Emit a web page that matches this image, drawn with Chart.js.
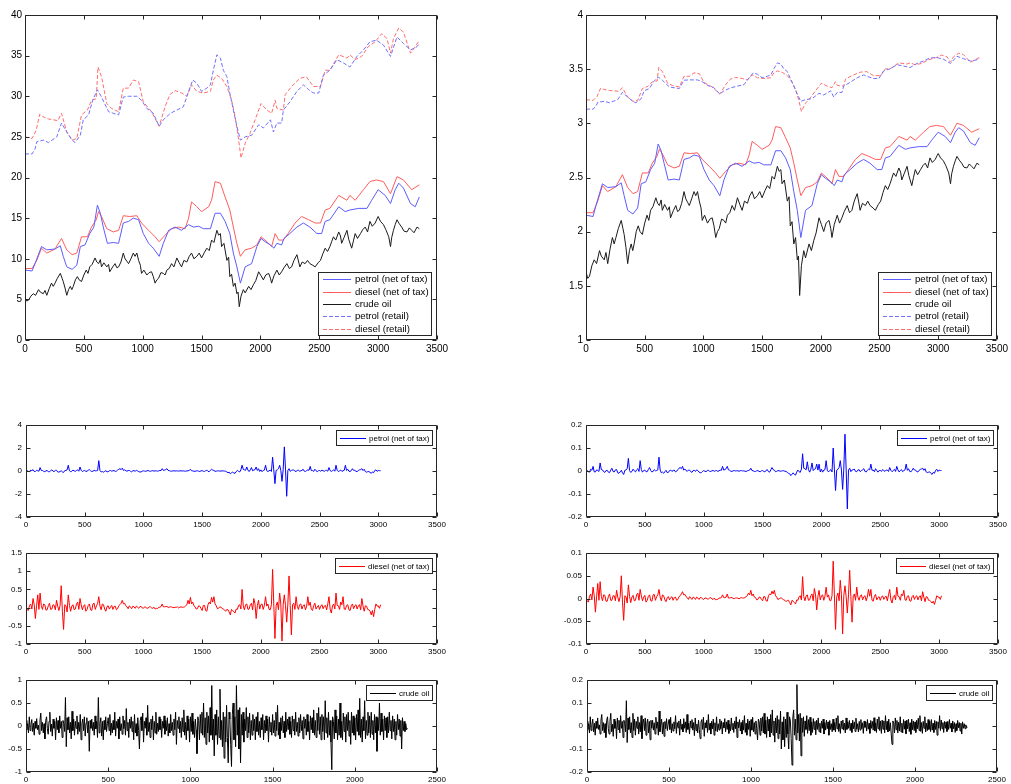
<!DOCTYPE html>
<html>
<head>
<meta charset="utf-8">
<script src="https://cdn.jsdelivr.net/npm/chart.js@4/dist/chart.umd.min.js"></script>
<style>
  html, body { margin: 0; padding: 0; background: #fff; width: 1011px; height: 784px; overflow: hidden; }
  canvas { position: absolute; }
</style>
</head>
<body>
<canvas id="levelChart"></canvas>
<canvas id="logLevelChart"></canvas>
<canvas id="petrolChangeChart"></canvas>
<canvas id="petrolLogChangeChart"></canvas>
<canvas id="dieselChangeChart"></canvas>
<canvas id="dieselLogChangeChart"></canvas>
<canvas id="crudeChangeChart"></canvas>
<canvas id="crudeLogChangeChart"></canvas>
<script>
// ---------- price levels (day index -> price) ----------
const petrolRetailX = [0,60,85,100,155,200,270,310,355,400,425,470,495,540,575,615,650,710,750,795,835,880,950,990,1035,1090,1140,1175,1235,1290,1345,1390,1425,1460,1500,1545,1575,1600,1630,1660,1685,1715,1740,1770,1800,1830,1870,1925,1985,2025,2085,2110,2140,2180,2195,2250,2310,2365,2410,2450,2495,2535,2590,2650,2705,2760,2820,2875,2930,2985,3045,3105,3160,3215,3275,3330,3352];
const petrolRetailLevel = [22.9,22.9,23.5,24.4,24.6,24.3,25.0,26.7,25.6,24.6,24.3,25.2,27.1,27.7,29.5,30.8,29.9,28.1,27.9,27.7,29.9,30.0,30.0,29.5,28.5,27.9,26.3,27.1,27.9,28.3,28.7,30.6,32.0,31.6,30.6,31.0,31.4,33.2,35.1,34.7,33.2,32.4,30.4,28.3,26.3,24.6,25.0,25.2,26.5,26.1,27.1,25.6,26.7,26.7,28.3,29.3,30.6,31.4,30.8,30.4,30.4,32.6,33.2,34.5,34.1,33.6,34.9,35.7,36.7,36.9,36.3,34.9,37.3,36.5,35.7,36.1,36.5];
const petrolRetailLog = [3.131,3.131,3.157,3.195,3.203,3.190,3.219,3.285,3.243,3.203,3.190,3.227,3.300,3.321,3.384,3.428,3.398,3.336,3.329,3.321,3.398,3.401,3.401,3.384,3.350,3.329,3.270,3.300,3.329,3.343,3.357,3.421,3.466,3.453,3.421,3.434,3.447,3.503,3.558,3.547,3.503,3.478,3.414,3.343,3.270,3.203,3.219,3.227,3.277,3.262,3.300,3.243,3.285,3.285,3.343,3.378,3.421,3.447,3.428,3.414,3.414,3.484,3.503,3.541,3.529,3.515,3.553,3.575,3.603,3.608,3.592,3.553,3.619,3.597,3.575,3.586,3.597];

const dieselRetailX = [0,60,95,125,150,200,280,310,355,400,440,480,530,565,605,620,650,695,735,795,835,880,920,965,1005,1075,1140,1190,1230,1275,1330,1375,1415,1460,1515,1575,1600,1630,1670,1715,1755,1785,1815,1835,1870,1910,1955,2005,2055,2095,2125,2140,2195,2210,2265,2335,2390,2450,2510,2550,2590,2665,2735,2760,2805,2860,2915,2975,3030,3075,3105,3130,3175,3215,3275,3315,3350];
const dieselRetailLevel = [25.0,24.8,25.8,27.8,27.5,27.2,27.0,27.9,25.6,24.6,24.8,27.7,28.3,29.5,29.7,33.6,32.4,29.1,28.5,28.1,31.0,31.0,32.0,31.8,29.3,28.1,26.3,28.7,30.2,30.7,30.4,30.0,31.4,30.6,30.4,30.6,32.0,32.6,32.2,31.2,29.5,27.5,24.6,22.4,24.2,25.4,27.1,29.1,28.3,27.9,29.5,28.5,28.3,30.2,31.2,32.2,32.4,31.2,31.2,33.2,33.2,35.1,34.7,35.1,34.5,34.9,36.1,36.7,37.7,37.1,35.3,37.1,38.4,37.9,35.3,36.1,36.9];
const dieselRetailLog = [3.219,3.211,3.250,3.325,3.314,3.303,3.296,3.329,3.243,3.203,3.211,3.321,3.343,3.384,3.391,3.515,3.478,3.371,3.350,3.336,3.434,3.434,3.466,3.459,3.378,3.336,3.270,3.357,3.408,3.424,3.414,3.401,3.447,3.421,3.414,3.421,3.466,3.484,3.472,3.440,3.384,3.314,3.203,3.109,3.186,3.235,3.300,3.371,3.343,3.329,3.384,3.350,3.343,3.408,3.440,3.472,3.478,3.440,3.440,3.503,3.503,3.558,3.547,3.558,3.541,3.553,3.586,3.603,3.630,3.614,3.564,3.614,3.648,3.635,3.564,3.586,3.608];

const petrolNetX = [0,60,85,140,185,255,300,325,355,400,440,470,510,550,585,615,640,665,700,750,795,835,880,920,965,1005,1050,1090,1140,1175,1220,1275,1330,1390,1430,1475,1515,1575,1615,1660,1700,1740,1770,1800,1830,1870,1925,1970,2005,2040,2085,2115,2140,2180,2200,2250,2310,2365,2420,2480,2520,2550,2590,2665,2720,2760,2835,2905,2945,3000,3060,3105,3145,3175,3215,3275,3315,3350];
const petrolNetLevel = [8.6,8.5,9.4,11.5,11.1,11.2,11.6,10.3,9.0,8.7,9.2,11.5,11.7,13.1,13.9,16.6,15.6,13.9,11.9,12.0,11.9,14.4,14.6,15.0,14.8,13.1,11.9,11.3,10.3,11.9,13.5,13.9,13.5,14.2,13.9,14.0,13.7,13.7,15.6,15.6,14.6,13.1,10.7,9.0,7.0,9.0,9.4,11.5,12.5,12.1,11.7,11.3,11.9,11.7,12.5,13.1,13.9,14.4,13.9,13.1,13.1,14.6,14.8,16.4,15.8,16.0,16.2,16.2,17.2,18.5,17.8,16.8,18.5,19.3,18.7,16.8,16.4,17.6];
const petrolNetLog = [2.152,2.140,2.241,2.442,2.407,2.416,2.451,2.332,2.197,2.163,2.219,2.442,2.460,2.573,2.632,2.809,2.747,2.632,2.477,2.485,2.477,2.667,2.681,2.708,2.695,2.573,2.477,2.425,2.332,2.477,2.603,2.632,2.603,2.653,2.632,2.639,2.617,2.617,2.747,2.747,2.681,2.573,2.370,2.197,1.946,2.197,2.241,2.442,2.526,2.493,2.460,2.425,2.477,2.460,2.526,2.573,2.632,2.667,2.632,2.573,2.573,2.681,2.695,2.797,2.760,2.773,2.785,2.785,2.845,2.918,2.879,2.821,2.918,2.960,2.929,2.821,2.797,2.868];

const dieselNetX = [0,60,100,140,185,255,310,355,400,440,480,530,565,605,625,650,695,750,795,835,890,950,990,1050,1105,1140,1190,1245,1305,1360,1390,1415,1460,1500,1560,1585,1615,1660,1700,1740,1770,1800,1830,1870,1925,1970,2005,2055,2095,2125,2155,2195,2235,2295,2350,2410,2465,2510,2550,2590,2665,2735,2760,2805,2875,2930,2985,3045,3105,3160,3215,3285,3350];
const dieselNetLevel = [8.8,8.8,9.8,11.3,10.7,11.2,12.5,11.1,10.5,10.7,12.7,12.7,13.9,14.8,15.8,15.2,13.7,13.3,13.5,15.3,15.2,15.3,14.4,13.5,12.7,12.1,12.9,13.7,13.9,13.7,15.0,17.0,16.4,15.8,16.4,17.2,19.5,19.3,17.6,16.0,13.9,11.9,10.3,11.1,11.3,11.7,12.7,12.1,11.5,13.1,12.3,12.3,13.1,14.4,15.2,14.8,14.4,14.4,16.0,16.2,17.8,17.2,17.8,17.2,18.5,19.5,19.7,19.5,18.0,20.1,19.7,18.5,19.1];
const dieselNetLog = [2.175,2.175,2.282,2.425,2.370,2.416,2.526,2.407,2.351,2.370,2.542,2.542,2.632,2.695,2.760,2.721,2.617,2.588,2.603,2.728,2.721,2.728,2.667,2.603,2.542,2.493,2.557,2.617,2.632,2.617,2.708,2.833,2.797,2.760,2.797,2.845,2.970,2.960,2.868,2.773,2.632,2.477,2.332,2.407,2.425,2.460,2.542,2.493,2.442,2.573,2.510,2.510,2.573,2.667,2.721,2.695,2.667,2.667,2.773,2.785,2.879,2.845,2.879,2.845,2.918,2.970,2.981,2.970,2.890,3.001,2.981,2.918,2.950];

const crudeX = [0,15,30,50,70,90,115,130,155,170,185,205,225,240,255,275,300,315,325,340,355,370,385,398,410,428,445,460,480,500,520,535,550,570,595,610,625,640,650,670,695,710,720,745,765,780,795,815,835,850,865,880,900,920,935,950,965,980,990,1010,1035,1055,1075,1090,1105,1120,1135,1155,1175,1190,1205,1225,1245,1265,1290,1310,1330,1350,1375,1395,1415,1435,1460,1480,1500,1525,1545,1565,1585,1605,1630,1645,1660,1670,1690,1715,1730,1740,1755,1770,1785,1800,1810,1820,1835,1855,1870,1900,1920,1940,1960,1985,2005,2025,2045,2070,2085,2095,2115,2140,2160,2180,2200,2225,2245,2265,2285,2310,2325,2335,2355,2380,2400,2420,2445,2465,2490,2510,2530,2550,2570,2590,2605,2620,2640,2665,2680,2690,2710,2735,2750,2775,2790,2805,2825,2850,2870,2890,2910,2930,2950,2975,2990,3000,3020,3045,3065,3090,3105,3115,3130,3145,3160,3180,3200,3220,3245,3265,3285,3305,3330,3350];
const crudeLevel = [5.1,4.8,4.9,5.4,5.7,5.5,6.2,5.9,5.7,6.1,5.5,6.3,7.0,6.6,7.0,7.6,8.2,7.6,7.2,6.4,5.5,6.2,6.6,6.2,6.6,7.4,7.8,7.4,7.2,8.0,8.6,8.2,9.0,9.3,10.1,9.6,9.4,9.9,9.0,9.5,9.0,9.3,8.4,9.0,9.4,8.9,9.0,9.6,10.7,10.0,9.7,9.4,10.0,10.7,10.3,10.7,9.8,9.2,8.2,8.6,8.0,8.3,8.4,7.8,7.0,7.4,7.6,8.3,8.2,8.0,8.6,8.8,9.4,9.0,10.1,9.5,9.0,9.8,9.6,10.3,10.7,10.0,10.3,10.7,10.1,10.8,11.3,11.0,12.3,12.0,13.5,12.9,13.1,11.5,11.9,9.8,10.2,7.8,8.1,6.6,7.0,5.7,5.9,4.1,5.4,6.2,5.8,6.6,6.2,6.8,7.3,8.4,7.9,7.4,8.0,8.2,7.6,7.0,7.9,8.6,8.0,8.4,8.9,9.4,8.8,9.0,9.8,10.5,9.6,9.0,9.6,9.4,9.8,9.4,9.2,9.0,9.5,9.8,10.6,11.3,10.9,11.5,12.1,12.7,12.3,13.3,12.8,11.9,12.6,13.5,12.4,11.3,12.2,13.1,12.5,13.1,13.6,13.9,13.3,14.6,14.0,14.4,14.9,15.2,14.6,14.2,13.6,12.7,11.5,12.6,13.5,14.2,14.8,14.3,13.9,13.4,13.3,13.8,13.5,13.2,13.9,13.7];
const crudeLog = [1.629,1.569,1.589,1.686,1.740,1.705,1.825,1.775,1.740,1.808,1.705,1.841,1.946,1.887,1.946,2.028,2.104,2.028,1.974,1.856,1.705,1.825,1.887,1.825,1.887,2.001,2.054,2.001,1.974,2.079,2.152,2.104,2.197,2.230,2.313,2.262,2.241,2.293,2.197,2.251,2.197,2.230,2.128,2.197,2.241,2.186,2.197,2.262,2.370,2.303,2.272,2.241,2.303,2.370,2.332,2.370,2.282,2.219,2.104,2.152,2.079,2.116,2.128,2.054,1.946,2.001,2.028,2.116,2.104,2.079,2.152,2.175,2.241,2.197,2.313,2.251,2.197,2.282,2.262,2.332,2.370,2.303,2.332,2.370,2.313,2.380,2.425,2.398,2.510,2.485,2.603,2.557,2.573,2.442,2.477,2.282,2.322,2.054,2.092,1.887,1.946,1.740,1.775,1.411,1.686,1.825,1.758,1.887,1.825,1.917,1.988,2.128,2.067,2.001,2.079,2.104,2.028,1.946,2.067,2.152,2.079,2.128,2.186,2.241,2.175,2.197,2.282,2.351,2.262,2.197,2.262,2.241,2.282,2.241,2.219,2.197,2.251,2.282,2.361,2.425,2.389,2.442,2.493,2.542,2.510,2.588,2.549,2.477,2.534,2.603,2.518,2.425,2.501,2.573,2.526,2.573,2.610,2.632,2.588,2.681,2.639,2.667,2.701,2.721,2.681,2.653,2.610,2.542,2.442,2.534,2.603,2.653,2.695,2.660,2.632,2.595,2.588,2.625,2.603,2.580,2.632,2.617];

// ---------- day-to-day changes (one value every 10 days for fuels, every 5 for crude) ----------
const fuelSpacing = 10;
const crudeSpacing = 5;
const petrolChange = [0.05,0.02,-0.03,-0.06,0.08,0.03,0.12,-0.04,-0.05,0.06,0.02,-0.02,0.3,0.05,0.04,-0.03,-0.06,0.02,0.03,-0.05,-0.08,0.04,0.1,-0.02,-0.04,0.05,0.06,-0.08,-0.1,-0.04,0.02,-0.08,-0.12,0.03,0.05,0.1,0.5,0.02,-0.06,-0.02,0.08,0.01,-0.03,0.05,0.1,-0.02,0.35,0.06,-0.05,0.02,0.04,-0.03,-0.02,0.07,0.12,0.02,-0.04,-0.02,0.06,0.01,0.02,0.05,0.9,0.04,-0.08,-0.05,-0.1,-0.03,0.03,-0.07,-0.06,0.02,0.05,-0.02,0.02,0.04,-0.04,-0.01,0.08,0.15,0.2,0.12,0.25,0.05,0.1,0.03,-0.02,0.04,0.05,-0.03,-0.07,0.02,0.03,-0.02,0.06,0.01,-0.05,-0.09,-0.08,-0.02,0.02,-0.01,-0.03,0.02,0.04,-0.01,-0.02,0.01,0.03,-0.01,0.01,0.02,-0.02,0.01,0.05,0.03,0.2,0.05,0.08,0.12,0.2,0.06,0.04,-0.01,-0.02,0.01,0.02,0,0.01,0.01,-0.01,0.01,0.02,0,0.01,-0.01,-0.02,0.01,0.02,0.04,0.15,0.02,0.01,-0.02,-0.03,0.01,0.02,-0.02,-0.04,0.01,0.03,-0.02,-0.05,0.03,0.08,-0.03,-0.06,0.06,0.15,0.08,0.05,-0.03,-0.02,0.02,0.01,-0.01,0,0.01,0.01,-0.01,-0.02,-0.08,-0.15,-0.1,-0.25,-0.15,-0.1,-0.18,-0.2,-0.05,0.05,-0.03,-0.08,0.1,0.5,0.15,0.1,0.06,0.35,0.08,-0.05,0.1,0.3,0.02,0.08,0.12,0.35,0.05,0.2,-0.04,0.1,-0.06,0.05,0.08,0.5,0.03,-0.05,0.02,0.08,-0.04,1.2,0.1,-1.1,0.05,0.1,0.2,0.5,0.05,-0.9,0.1,2.1,0.1,-2.2,0.05,0.2,-0.03,0.05,0.08,0.1,-0.02,-0.04,0.05,0.08,-0.03,0.02,0.06,0.15,-0.02,-0.05,0.04,0.1,0.06,0.4,0.03,0.05,-0.04,0.15,0.02,-0.06,0.03,0.04,-0.02,0.08,0.02,-0.03,0.05,0.06,-0.02,0.3,0.04,-0.04,0.03,0.1,-0.02,0.5,0.06,-0.05,0.02,0.08,-0.03,0.02,0.06,0.5,0.04,0.15,-0.02,-0.04,0.03,0.2,0.05,0.06,-0.03,-0.05,0.04,0.1,0.12,0.2,0.04,0.15,-0.05,-0.1,-0.06,-0.05,-0.12,-0.2,-0.08,-0.15,0.04,0.1,-0.03,0.05,0.03,0.02];
const petrolLogChange = [0.004,0.002,-0.003,-0.005,0.008,0.003,0.02,-0.004,-0.004,0.005,0.002,-0.002,0.035,0.006,0.005,-0.003,-0.006,0.002,0.003,-0.005,-0.007,0.004,0.012,-0.002,-0.004,0.005,0.006,-0.008,-0.01,-0.004,0.003,-0.008,-0.015,0.003,0.005,0.01,0.055,0.002,-0.006,-0.002,0.008,0.001,-0.004,0.005,0.01,-0.002,0.045,0.006,-0.005,0.002,0.004,-0.003,-0.003,0.007,0.015,0.002,-0.004,-0.002,0.006,0.001,0.002,0.005,0.06,0.004,-0.008,-0.005,-0.01,-0.003,0.003,-0.007,-0.006,0.002,0.004,-0.002,0.002,0.004,-0.004,-0.001,0.006,0.012,0.015,0.01,0.02,0.004,0.008,0.003,-0.002,0.004,0.004,-0.003,-0.006,0.002,0.003,-0.002,0.005,0.001,-0.004,-0.008,-0.007,-0.002,0.002,-0.001,-0.003,0.002,0.003,-0.001,-0.002,0.001,0.002,-0.001,0.001,0.002,-0.002,0.001,0.004,0.003,0.02,0.004,0.006,0.01,0.02,0.005,0.003,-0.001,-0.002,0.001,0.002,0,0.001,0.001,-0.001,0.001,0.002,0,0.001,-0.001,-0.002,0.001,0.002,0.004,0.012,0.002,0.001,-0.002,-0.002,0.001,0.002,-0.002,-0.003,0.001,0.002,-0.002,-0.004,0.003,0.006,-0.003,-0.005,0.005,0.015,0.006,0.004,-0.003,-0.002,0.002,0.001,-0.001,0,0.001,0.001,-0.001,-0.002,-0.006,-0.01,-0.012,-0.02,-0.014,-0.008,-0.015,-0.018,-0.005,0.004,-0.003,-0.006,0.008,0.075,0.012,0.01,0.005,0.04,0.006,-0.005,0.008,0.035,0.002,0.008,0.01,0.03,0.004,0.03,-0.004,0.008,-0.005,0.004,0.006,0.045,0.003,-0.004,0.002,0.006,-0.004,0.1,0.008,-0.085,0.004,0.008,0.015,0.045,0.004,-0.08,0.008,0.16,0.008,-0.165,0.004,0.012,-0.003,0.004,0.006,0.008,-0.002,-0.003,0.004,0.006,-0.003,0.002,0.005,0.01,-0.002,-0.004,0.003,0.008,0.005,0.03,0.003,0.004,-0.003,0.01,0.002,-0.005,0.002,0.003,-0.002,0.006,0.002,-0.002,0.004,0.004,-0.002,0.015,0.003,-0.003,0.002,0.007,-0.002,0.02,0.005,-0.004,0.002,0.006,-0.003,0.002,0.005,0.03,0.003,0.01,-0.002,-0.003,0.002,0.012,0.004,0.004,-0.003,-0.004,0.003,0.007,0.009,0.012,0.003,0.01,-0.004,-0.007,-0.005,-0.004,-0.01,-0.015,-0.006,-0.01,0.003,0.007,-0.002,0.004,0.002,0.002];
const dieselChange = [0.05,-0.06,-0.08,0.06,0.1,-0.04,0.25,0.08,-0.3,0.05,0.35,-0.05,0.4,0.06,-0.05,0.1,0.08,-0.07,-0.06,0.05,0.12,-0.05,-0.04,0.08,0.06,-0.06,0.2,0.04,-0.08,0.05,0.6,-0.1,-0.6,0.08,0.05,-0.12,0.35,0.06,-0.1,0.04,0.08,-0.06,-0.04,0.1,0.15,-0.05,0.25,0.08,-0.06,0.04,0.08,-0.1,-0.05,0.06,0.1,-0.06,-0.08,0.1,0.12,-0.05,0.05,0.12,0.3,0.04,-0.06,0.1,0.08,-0.04,-0.1,0.03,0.05,-0.04,0.02,0.06,-0.05,0.03,0.04,-0.06,-0.03,0.05,0.08,0.12,0.2,0.1,0.12,0.05,0.02,-0.03,0.05,0.01,-0.03,0.04,0.02,-0.02,0.04,0.01,-0.02,0.03,0.03,-0.01,-0.02,0.02,0.01,-0.02,-0.01,0.02,0.02,-0.01,-0.02,0.01,-0.04,-0.02,-0.03,0.01,0.01,0.03,0.1,0.02,0.02,0.03,0.03,0.01,0.01,0.02,0.02,0,0,0.01,0.01,0.02,-0.01,0.01,0.02,0.01,0.01,0.02,0.05,0.08,0.2,0.1,0.28,0.1,0.15,0.05,0.02,-0.04,-0.03,0.05,0.04,-0.02,-0.08,0.06,0.06,-0.08,-0.1,0.08,0.15,0.1,0.28,0.15,0.3,0.1,0.05,-0.03,-0.02,0.02,0.01,-0.02,-0.04,-0.06,-0.1,-0.05,-0.06,-0.12,-0.2,-0.05,-0.08,-0.12,-0.15,-0.04,-0.05,0.06,0.08,-0.04,0.5,0.05,-0.06,0.08,0.1,-0.05,-0.04,0.08,0.12,-0.06,0.25,0.1,-0.3,0.05,0.2,-0.04,0.08,0.1,-0.05,0.06,0.3,0.04,0.1,-0.05,-0.06,0.08,1.05,0.1,-0.85,0.05,0.15,-0.06,0.4,0.1,-0.92,0.08,0.35,0.05,-0.4,0.1,0.87,0.05,-0.75,0.08,0.12,-0.05,0.3,0.04,-0.05,0.08,0.1,-0.04,0.05,0.08,-0.06,0.04,0.3,0.06,0.15,-0.05,-0.08,0.06,0.12,-0.04,0.02,0.06,-0.05,0.04,0.08,-0.03,0.04,0.06,-0.06,0.1,0.3,-0.04,-0.15,0.05,0.1,-0.04,0.4,0.06,0.05,-0.05,0.15,0.08,0.3,-0.04,-0.05,0.06,0.08,-0.06,-0.08,0.05,0.1,-0.03,0.05,0.08,-0.04,0.05,0.08,-0.06,0.25,0.04,-0.1,0.05,0.04,-0.05,-0.06,-0.1,-0.2,-0.08,-0.25,-0.05,0.1,0.04,0.05,-0.02,0.08];
const dieselLogChange = [0.003,-0.005,-0.008,0.005,0.01,-0.003,0.025,0.006,-0.03,0.004,0.033,-0.004,0.037,0.005,-0.005,0.008,0.007,-0.006,-0.006,0.004,0.01,-0.004,-0.004,0.006,0.006,-0.005,0.018,0.003,-0.007,0.004,0.05,-0.008,-0.048,0.006,0.004,-0.01,0.03,0.005,-0.009,0.003,0.007,-0.005,-0.004,0.008,0.012,-0.004,0.02,0.006,-0.005,0.003,0.007,-0.008,-0.004,0.005,0.008,-0.005,-0.006,0.008,0.009,-0.004,0.004,0.008,0.02,0.003,-0.005,0.008,0.006,-0.003,-0.007,0.002,0.004,-0.003,0.002,0.004,-0.004,0.002,0.003,-0.004,-0.002,0.004,0.006,0.01,0.015,0.008,0.009,0.004,0.002,-0.002,0.004,0.001,-0.002,0.003,0.002,-0.002,0.003,0.001,-0.002,0.002,0.002,-0.001,-0.002,0.001,0.001,-0.001,-0.001,0.001,0.002,-0.001,-0.002,0.001,-0.003,-0.002,-0.002,0.001,0.001,0.002,0.008,0.002,0.002,0.003,0.01,0.001,0.001,0.002,0.002,0,0,0.001,0.001,0.001,-0.001,0.001,0.002,0.001,0.001,0.002,0.004,0.006,0.012,0.008,0.018,0.006,0.01,0.003,0.002,-0.003,-0.002,0.003,0.003,-0.002,-0.005,0.004,0.004,-0.005,-0.006,0.006,0.01,0.008,0.016,0.01,0.018,0.006,0.003,-0.002,-0.001,0.001,0.001,-0.001,-0.003,-0.004,-0.007,-0.004,-0.004,-0.009,-0.014,-0.004,-0.006,-0.009,-0.012,-0.003,-0.004,0.004,0.006,-0.003,0.048,0.004,-0.005,0.006,0.008,-0.004,-0.003,0.006,0.01,-0.005,0.022,0.008,-0.025,0.004,0.018,-0.003,0.006,0.008,-0.004,0.005,0.025,0.003,0.008,-0.004,-0.005,0.006,0.082,0.008,-0.068,0.004,0.012,-0.005,0.04,0.008,-0.078,0.006,0.028,0.004,-0.032,0.008,0.062,0.004,-0.052,0.006,0.01,-0.004,0.025,0.003,-0.004,0.006,0.008,-0.003,0.004,0.006,-0.005,0.003,0.02,0.005,0.02,-0.004,-0.006,0.005,0.009,-0.003,0.002,0.004,-0.004,0.003,0.006,-0.002,0.003,0.005,-0.005,0.008,0.02,-0.003,-0.01,0.004,0.007,-0.003,0.025,0.005,0.004,-0.004,0.01,0.006,0.018,-0.003,-0.004,0.005,0.006,-0.005,-0.006,0.004,0.007,-0.002,0.004,0.006,-0.003,0.004,0.006,-0.005,0.015,0.003,-0.007,0.004,0.003,-0.004,-0.004,-0.007,-0.01,-0.006,-0.013,-0.004,0.006,0.003,0.003,-0.002,0.006];
const crudeChange = [0.12,-0.08,0.05,-0.15,0.2,-0.1,0.03,0.14,-0.12,0.06,-0.2,0.1,-0.05,0.16,-0.08,0.02,-0.18,0.12,0.28,-0.1,0.08,-0.15,0.05,-0.28,0.12,0.2,-0.06,-0.18,0.1,0.3,-0.12,0.04,-0.22,0.15,-0.05,0.1,-0.3,0.18,-0.08,0.12,-0.15,0.22,-0.05,0.1,-0.25,0.12,0.05,-0.12,0.62,-0.45,0.18,-0.08,0.2,-0.15,0.08,-0.28,0.32,-0.1,0.15,-0.2,0.1,-0.05,0.22,-0.18,0.08,-0.12,0.25,-0.3,0.05,0.15,-0.1,0.2,-0.22,0.06,0.18,-0.15,0.1,-0.55,0.12,-0.05,0.15,-0.1,0.08,-0.2,0.22,-0.06,0.1,-0.25,0.62,-0.15,0.05,0.18,-0.22,0.1,-0.3,0.12,-0.08,0.2,-0.12,0.05,0.18,-0.1,0.25,-0.2,0.06,-0.15,0.12,-0.08,0.3,-0.22,0.1,-0.05,0.15,-0.28,0.2,-0.1,0.05,-0.18,0.22,-0.06,0.12,-0.2,0.38,-0.1,0.08,-0.25,0.15,-0.05,0.2,-0.12,0.1,-0.3,0.25,-0.15,0.05,-0.22,0.18,-0.1,-0.5,0.12,0.2,-0.1,0.28,-0.35,0.1,-0.05,0.18,-0.2,0.45,-0.12,0.08,-0.25,0.15,-0.08,0.22,-0.3,0.1,-0.15,0.3,-0.18,0.06,-0.12,0.2,-0.08,0.15,-0.25,0.1,-0.05,0.22,-0.18,0.12,-0.1,0.18,-0.22,0.05,-0.15,0.25,-0.1,0.08,-0.2,0.15,-0.08,0.3,-0.4,0.12,-0.05,0.2,-0.15,0.1,-0.25,0.18,-0.12,0.35,-0.2,0.08,-0.3,0.22,-0.1,0.15,-0.35,0.2,-0.12,0.28,-0.18,0.1,-0.25,0.15,-0.08,-0.6,0.2,0.12,-0.3,0.25,-0.15,0.3,-0.2,0.5,-0.25,0.18,-0.4,0.3,-0.15,0.22,-0.35,0.4,-0.2,0.88,-0.3,0.15,-0.65,0.25,-0.2,0.35,-0.4,0.2,-0.25,0.8,-0.3,0.12,-0.45,0.3,-0.7,0.2,-0.35,0.45,-0.25,-0.8,0.3,0.15,-0.4,-0.88,0.25,0.5,-0.3,0.2,-0.45,0.88,-0.2,0.35,-0.5,0.4,-0.8,0.25,-0.2,0.3,-0.35,0.15,-0.1,0.4,-0.25,0.2,-0.15,0.28,-0.3,0.12,-0.2,0.25,-0.1,0.15,-0.3,0.2,-0.12,0.3,-0.2,0.1,-0.25,0.18,-0.08,0.25,-0.3,0.12,-0.15,0.22,-0.1,0.15,-0.35,0.2,-0.12,0.08,-0.2,0.25,-0.15,0.12,-0.22,0.3,-0.1,0.45,-0.2,0.08,-0.28,0.18,-0.1,0.22,-0.15,0.1,-0.25,0.3,-0.12,0.15,-0.08,0.2,-0.18,0.1,-0.25,0.22,-0.1,0.15,-0.2,0.3,-0.12,0.08,-0.22,0.18,-0.15,0.25,-0.1,0.12,-0.28,0.2,-0.05,0.15,-0.2,0.25,-0.12,0.1,-0.3,0.22,-0.08,0.18,-0.15,0.35,-0.2,0.12,-0.25,0.28,-0.1,0.4,-0.18,0.2,-0.3,0.25,-0.12,0.2,-0.3,0.55,-0.15,0.18,-0.25,0.3,-0.2,0.12,-0.35,-0.95,0.2,0.1,-0.28,0.35,-0.15,0.22,-0.3,0.15,-0.2,0.5,-0.25,0.1,-0.3,0.28,-0.12,0.2,-0.35,0.25,-0.1,0.3,-0.22,0.12,-0.4,0.3,-0.15,0.22,-0.2,0.18,-0.3,0.25,-0.12,0.35,-0.2,0.6,-0.25,0.15,-0.35,0.2,-0.1,0.55,-0.28,0.12,-0.2,0.3,-0.15,0.22,-0.25,0.3,-0.18,0.12,-0.3,0.25,-0.15,0.2,-0.55,0.18,-0.1,0.5,-0.2,0.28,-0.12,0.15,-0.3,0.22,-0.1,0.18,-0.25,0.2,-0.15,0.3,-0.1,0.12,-0.28,0.22,-0.12,0.15,-0.3,0.1,-0.2,0.25,-0.08,0.15,-0.22,0.12,-0.5,0.18,-0.1,0.1,-0.12,0.05,-0.08,-0.05];
const crudeLogChange = [0.02,-0.015,0.01,-0.03,0.04,-0.02,0.005,0.03,-0.025,0.012,-0.04,0.02,-0.01,0.035,-0.015,0.005,-0.035,0.025,0.05,-0.02,0.015,-0.03,0.01,-0.05,0.025,0.04,-0.012,-0.035,0.02,0.055,-0.025,0.008,-0.045,0.03,-0.01,0.02,-0.055,0.035,-0.015,0.025,-0.03,0.045,-0.01,0.02,-0.05,0.025,0.01,-0.025,0.11,-0.072,0.035,-0.015,0.04,-0.03,0.015,-0.05,0.055,-0.02,0.03,-0.04,0.02,-0.01,0.04,-0.035,0.015,-0.025,0.045,-0.055,0.01,0.03,-0.02,0.035,-0.04,0.012,0.03,-0.03,0.02,-0.06,0.025,-0.01,0.025,-0.018,0.014,-0.035,0.038,-0.01,0.018,-0.04,0.065,-0.025,0.008,0.03,-0.035,0.016,-0.045,0.02,-0.012,0.032,-0.02,0.008,0.028,-0.015,0.038,-0.03,0.01,-0.022,0.018,-0.012,0.045,-0.032,0.015,-0.008,0.022,-0.04,0.03,-0.015,0.008,-0.026,0.032,-0.01,0.018,-0.028,0.05,-0.015,0.012,-0.035,0.022,-0.008,0.028,-0.018,0.015,-0.042,0.035,-0.02,0.008,-0.03,0.025,-0.015,-0.055,0.018,0.028,-0.015,0.038,-0.045,0.014,-0.008,0.025,-0.028,0.05,-0.018,0.012,-0.035,0.02,-0.012,0.03,-0.04,0.014,-0.022,0.04,-0.025,0.01,-0.018,0.03,-0.012,0.022,-0.035,0.015,-0.008,0.032,-0.025,0.018,-0.015,0.025,-0.032,0.008,-0.022,0.035,-0.015,0.012,-0.028,0.022,-0.012,0.04,-0.05,0.018,-0.008,0.028,-0.022,0.015,-0.035,0.025,-0.018,0.045,-0.028,0.012,-0.04,0.03,-0.015,0.022,-0.045,0.028,-0.018,0.038,-0.025,0.015,-0.035,0.022,-0.012,-0.06,0.03,0.018,-0.04,0.035,-0.022,0.04,-0.03,0.055,-0.035,0.025,-0.05,0.04,-0.022,0.03,-0.048,0.05,-0.03,0.07,-0.04,0.022,-0.07,0.035,-0.03,0.045,-0.055,0.028,-0.035,0.065,-0.1,0.018,-0.06,0.04,-0.09,0.03,-0.05,0.06,-0.035,-0.1,0.04,0.022,-0.055,-0.17,0.035,0.07,-0.04,0.03,-0.06,0.18,-0.03,0.05,-0.065,0.055,-0.13,0.035,-0.028,0.04,-0.045,0.022,-0.015,0.045,-0.032,0.028,-0.02,0.038,-0.04,0.018,-0.028,0.032,-0.015,0.02,-0.038,0.025,-0.015,0.035,-0.025,0.012,-0.03,0.022,-0.01,0.03,-0.035,0.015,-0.018,0.026,-0.012,0.018,-0.04,0.024,-0.015,0.01,-0.025,0.03,-0.018,0.015,-0.026,0.035,-0.012,0.045,-0.024,0.01,-0.032,0.022,-0.012,0.026,-0.018,0.012,-0.03,0.035,-0.015,0.018,-0.01,0.024,-0.02,0.012,-0.028,0.025,-0.012,0.018,-0.024,0.034,-0.014,0.01,-0.026,0.02,-0.018,0.028,-0.012,0.014,-0.032,0.022,-0.006,0.018,-0.022,0.028,-0.014,0.012,-0.032,0.024,-0.01,0.02,-0.018,0.036,-0.022,0.014,-0.028,0.03,-0.012,0.04,-0.02,0.022,-0.032,0.026,-0.014,0.022,-0.03,0.045,-0.016,0.02,-0.026,0.03,-0.022,0.014,-0.035,-0.08,0.022,0.012,-0.03,0.035,-0.016,0.024,-0.03,0.016,-0.022,0.04,-0.026,0.012,-0.03,0.028,-0.014,0.022,-0.034,0.026,-0.012,0.03,-0.024,0.014,-0.036,0.03,-0.016,0.022,-0.02,0.018,-0.028,0.025,-0.012,0.034,-0.02,0.045,-0.024,0.015,-0.032,0.02,-0.01,0.04,-0.026,0.012,-0.02,0.028,-0.015,0.022,-0.024,0.028,-0.018,0.012,-0.028,0.024,-0.015,0.02,-0.04,0.018,-0.01,0.045,-0.02,0.026,-0.012,0.015,-0.028,0.02,-0.01,0.018,-0.024,0.02,-0.015,0.028,-0.01,0.012,-0.026,0.022,-0.012,0.015,-0.028,0.01,-0.02,0.024,-0.008,0.015,-0.022,0.012,-0.035,0.018,-0.01,0.01,-0.012,0.005,-0.008,-0.005];

// ---------- tick labels ----------
const ticksDay3500 = [0,500,1000,1500,2000,2500,3000,3500];
const ticksDay2500 = [0,500,1000,1500,2000,2500];
const ticksLevel = [0,5,10,15,20,25,30,35,40];
const ticksLogLevel = [1,1.5,2,2.5,3,3.5,4];
const ticksPetrolChange = [-4,-2,0,2,4];
const ticksPetrolLogChange = [-0.2,-0.1,0,0.1,0.2];
const ticksDieselChange = [-1,-0.5,0,0.5,1,1.5];
const ticksDieselLogChange = [-0.1,-0.05,0,0.05,0.1];
const ticksCrudeChange = [-1,-0.5,0,0.5,1];
const ticksCrudeLogChange = [-0.2,-0.1,0,0.1,0.2];

// ---------- series labels ----------
const LABEL_PETROL_NET = 'petrol (net of tax)';
const LABEL_DIESEL_NET = 'diesel (net of tax)';
const LABEL_CRUDE = 'crude oil';
const LABEL_PETROL_RETAIL = 'petrol (retail)';
const LABEL_DIESEL_RETAIL = 'diesel (retail)';

const FONT = '"Liberation Sans", Arial, Helvetica, sans-serif';
// level panels use thin, light strokes; change panels use saturated colours
const LEVEL_BLUE = '#5c5cff', LEVEL_RED = '#ff5c5c';
const RETAIL_BLUE = '#7070ff', RETAIL_RED = '#ff6e6e';
const LEVEL_BLACK = '#1a1a1a';
const BLUE = '#0000ff', RED = '#ff0000', BLACK = '#000000';
const RETAIL_DASH = [4, 2];

function xy(xs, ys) { return xs.map((x, i) => ({ x, y: ys[i] })); }
function sampled(ys, spacing) { return ys.map((y, i) => ({ x: i * spacing, y })); }

function line(label, points, color, dash) {
  return { label, data: points, borderColor: color, borderWidth: 1, borderDash: dash || [],
           pointRadius: 0, fill: false, tension: 0 };
}

function axis(kind, range, ticks, fontSize, fixedSize, pad) {
  return {
    type: 'linear', min: range[0], max: range[1],
    grid: { display: false, drawTicks: false },
    border: { display: false },
    afterBuildTicks: s => { s.ticks = ticks.map(v => ({ value: v })); },
    afterFit: s => { if (kind === 'x') s.height = fixedSize; else s.width = fixedSize; },
    ticks: { font: { family: FONT, size: fontSize }, color: '#000', padding: pad,
             autoSkip: false, maxRotation: 0, minRotation: 0, callback: v => String(v) }
  };
}

// Box around the plot area with inward tick marks on all four sides
const boxedAxes = {
  id: 'boxedAxes',
  afterDatasetsDraw(chart, args, opts) {
    const { ctx, chartArea: a, scales: { x, y } } = chart;
    const L = Math.round(a.left) + 0.5, R = Math.round(a.right) - 0.5;
    const T = Math.round(a.top) + 0.5, B = Math.round(a.bottom) - 0.5;
    const len = opts.tickLen || 4;
    ctx.save();
    ctx.strokeStyle = '#262626';
    ctx.lineWidth = 1;
    ctx.setLineDash([]);
    ctx.beginPath();
    ctx.rect(L, T, R - L, B - T);
    x.ticks.forEach(t => {
      const px = Math.round(x.getPixelForValue(t.value)) + 0.5;
      ctx.moveTo(px, B); ctx.lineTo(px, B - len);
      ctx.moveTo(px, T); ctx.lineTo(px, T + len);
    });
    y.ticks.forEach(t => {
      const py = Math.round(y.getPixelForValue(t.value)) + 0.5;
      ctx.moveTo(L, py); ctx.lineTo(L + len, py);
      ctx.moveTo(R, py); ctx.lineTo(R - len, py);
    });
    ctx.stroke();
    ctx.restore();
  }
};

// Legend box drawn inside the plot area; sample lines are painted as 1px bars
// so each keeps its exact colour and dash pattern
const insetLegend = {
  id: 'insetLegend',
  afterDraw(chart, args, o) {
    if (!o || !o.show) return;
    const { ctx, chartArea: a } = chart;
    const items = chart.data.datasets.map(d => ({ label: d.label, color: d.borderColor, dash: d.borderDash || [] }));
    ctx.save();
    ctx.font = o.size + 'px ' + FONT;
    const tw = Math.max(...items.map(d => ctx.measureText(d.label).width));
    const w = Math.round(o.padL + o.lineLen + o.gap + tw + o.padR);
    const h = Math.round(o.padV * 2 + items.length * o.rowH);
    const left = Math.round(a.right - o.marginR - w);
    const top = o.corner === 'br' ? Math.round(a.bottom - o.marginB - h) : Math.round(a.top + o.marginT);
    ctx.fillStyle = '#fff';
    ctx.fillRect(left, top, w, h);
    ctx.strokeStyle = '#262626';
    ctx.lineWidth = 1;
    ctx.setLineDash([]);
    ctx.strokeRect(left + 0.5, top + 0.5, w - 1, h - 1);
    items.forEach((d, i) => {
      const cy = Math.round(top + o.padV + o.rowH * (i + 0.5));
      const x0 = left + o.padL, x1 = left + o.padL + o.lineLen;
      ctx.fillStyle = d.color;
      if (d.dash.length) {
        const on = d.dash[0], period = d.dash[0] + d.dash[1];
        for (let x = x0; x < x1; x += period) ctx.fillRect(x, cy, Math.min(on, x1 - x), 1);
      } else {
        ctx.fillRect(x0, cy, x1 - x0, 1);
      }
      ctx.fillStyle = '#000';
      ctx.textBaseline = 'middle';
      ctx.textAlign = 'left';
      ctx.fillText(d.label, x1 + o.gap, cy + 0.5);
    });
    ctx.restore();
  }
};

function makePanel(id, box, xAxis, yAxis, datasets, legend) {
  const cv = document.getElementById(id);
  cv.width = box.w; cv.height = box.h;
  cv.style.left = box.left + 'px'; cv.style.top = box.top + 'px';
  return new Chart(cv, {
    type: 'line',
    data: { datasets },
    options: {
      responsive: false, animation: false, devicePixelRatio: 1,
      parsing: false, events: [],
      layout: { padding: { left: 0, top: box.padT, right: box.padR, bottom: 0 } },
      scales: { x: xAxis, y: yAxis },
      plugins: { legend: { display: false }, tooltip: { enabled: false },
                 insetLegend: legend, boxedAxes: { tickLen: 4 } }
    },
    plugins: [boxedAxes, insetLegend]
  });
}

const bigLegend = { show: true, size: 9.6, corner: 'br', padL: 5, lineLen: 28, gap: 4, padR: 3,
                    padV: 1, rowH: 12.4, marginR: 5, marginB: 4 };
const smallLegend = { show: true, size: 8, corner: 'tr', padL: 4, lineLen: 26, gap: 3, padR: 4,
                      padV: 0, rowH: 15.5, marginR: 4, marginT: 5 };

// --- price levels ---
makePanel('levelChart', { left: 0, top: 0, w: 460, h: 360, padT: 15, padR: 23 },
  axis('x', [0, 3500], ticksDay3500, 10, 20, 3),
  axis('y', [0, 40], ticksLevel, 10, 25, 3),
  [
    line(LABEL_PETROL_NET, xy(petrolNetX, petrolNetLevel), LEVEL_BLUE),
    line(LABEL_DIESEL_NET, xy(dieselNetX, dieselNetLevel), LEVEL_RED),
    line(LABEL_CRUDE, xy(crudeX, crudeLevel), LEVEL_BLACK),
    line(LABEL_PETROL_RETAIL, xy(petrolRetailX, petrolRetailLevel), RETAIL_BLUE, RETAIL_DASH),
    line(LABEL_DIESEL_RETAIL, xy(dieselRetailX, dieselRetailLevel), RETAIL_RED, RETAIL_DASH)
  ], bigLegend);

makePanel('logLevelChart', { left: 540, top: 0, w: 471, h: 360, padT: 15, padR: 14 },
  axis('x', [0, 3500], ticksDay3500, 10, 20, 3),
  axis('y', [1, 4], ticksLogLevel, 10, 46, 3),
  [
    line(LABEL_PETROL_NET, xy(petrolNetX, petrolNetLog), LEVEL_BLUE),
    line(LABEL_DIESEL_NET, xy(dieselNetX, dieselNetLog), LEVEL_RED),
    line(LABEL_CRUDE, xy(crudeX, crudeLog), LEVEL_BLACK),
    line(LABEL_PETROL_RETAIL, xy(petrolRetailX, petrolRetailLog), RETAIL_BLUE, RETAIL_DASH),
    line(LABEL_DIESEL_RETAIL, xy(dieselRetailX, dieselRetailLog), RETAIL_RED, RETAIL_DASH)
  ], bigLegend);

// --- changes ---
makePanel('petrolChangeChart', { left: 0, top: 415, w: 460, h: 120, padT: 10, padR: 23 },
  axis('x', [0, 3500], ticksDay3500, 8, 18, 3),
  axis('y', [-4, 4], ticksPetrolChange, 8, 26, 4),
  [line(LABEL_PETROL_NET, sampled(petrolChange, fuelSpacing), BLUE)], smallLegend);

makePanel('petrolLogChangeChart', { left: 540, top: 415, w: 471, h: 120, padT: 10, padR: 13 },
  axis('x', [0, 3500], ticksDay3500, 8, 18, 3),
  axis('y', [-0.2, 0.2], ticksPetrolLogChange, 8, 46, 4),
  [line(LABEL_PETROL_NET, sampled(petrolLogChange, fuelSpacing), BLUE)], smallLegend);

makePanel('dieselChangeChart', { left: 0, top: 543, w: 460, h: 119, padT: 10, padR: 23 },
  axis('x', [0, 3500], ticksDay3500, 8, 18, 3),
  axis('y', [-1, 1.5], ticksDieselChange, 8, 26, 4),
  [line(LABEL_DIESEL_NET, sampled(dieselChange, fuelSpacing), RED)], smallLegend);

makePanel('dieselLogChangeChart', { left: 540, top: 543, w: 471, h: 119, padT: 10, padR: 13 },
  axis('x', [0, 3500], ticksDay3500, 8, 18, 3),
  axis('y', [-0.1, 0.1], ticksDieselLogChange, 8, 46, 4),
  [line(LABEL_DIESEL_NET, sampled(dieselLogChange, fuelSpacing), RED)], smallLegend);

makePanel('crudeChangeChart', { left: 0, top: 670, w: 460, h: 114, padT: 10, padR: 23 },
  axis('x', [0, 2500], ticksDay2500, 8, 12, 3),
  axis('y', [-1, 1], ticksCrudeChange, 8, 26, 4),
  [line(LABEL_CRUDE, sampled(crudeChange, crudeSpacing), BLACK)], smallLegend);

makePanel('crudeLogChangeChart', { left: 540, top: 670, w: 471, h: 114, padT: 10, padR: 14 },
  axis('x', [0, 2500], ticksDay2500, 8, 12, 3),
  axis('y', [-0.2, 0.2], ticksCrudeLogChange, 8, 47, 4),
  [line(LABEL_CRUDE, sampled(crudeLogChange, crudeSpacing), BLACK)], smallLegend);
</script>
</body>
</html>
